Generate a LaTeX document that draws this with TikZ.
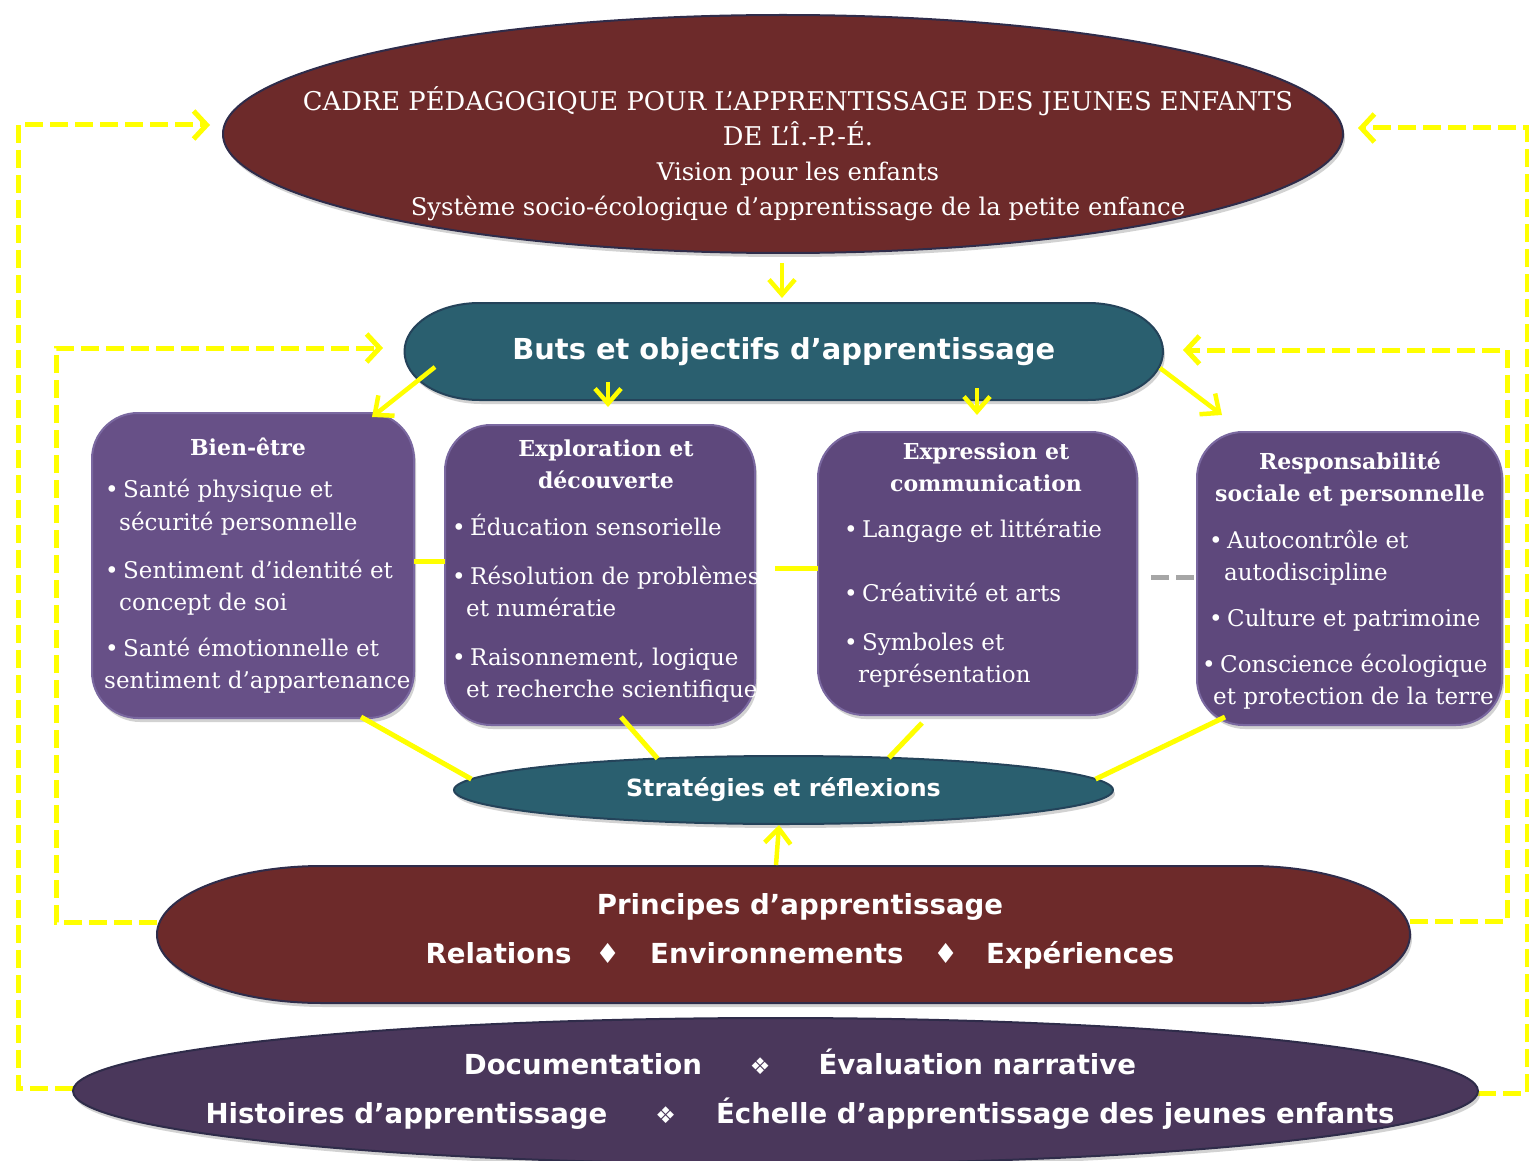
\documentclass[tikz,border=0pt]{standalone}
\usepackage{fontspec}
\setmainfont{DejaVu Serif}
\newfontfamily\hsans{DejaVu Sans}
\usetikzlibrary{shapes.geometric,arrows.meta,calc,shadows}
\pgfdeclarelayer{bg}
\pgfsetlayers{bg,main}
\definecolor{dred}{HTML}{6D2A2A}
\definecolor{dredge}{HTML}{2F2C4A}
\definecolor{cteal}{HTML}{2A5F6F}
\definecolor{ctealedge}{HTML}{24435A}
\definecolor{cpurp}{HTML}{5E487C}
\definecolor{cpurpa}{HTML}{675087}
\definecolor{cpurpedge}{HTML}{7A68A0}
\definecolor{cbot}{HTML}{4A375B}
\definecolor{cyel}{HTML}{FFFF00}
\tikzset{
  shd/.style={drop shadow={shadow xshift=2pt,shadow yshift=-4pt,opacity=0.35}},
  ell/.style={ellipse, inner sep=0pt, outer sep=0pt, shd},
  pbox/.style={rectangle, rounded corners=46pt, inner sep=0pt, outer sep=0pt, fill=cpurp, draw=cpurpedge, line width=2pt, shd},
  ghost/.style={rectangle, inner sep=0pt, outer sep=0pt},
  ydash/.style={cyel, line width=5pt, dash pattern=on 18pt off 7pt},
  gdash/.style={black!35, line width=5pt, dash pattern=on 18pt off 7pt},
  yline/.style={cyel, line width=5pt},
  yarr/.style={cyel, line width=4.5pt, -{Straight Barb[length=15pt,width=26pt]}},
  dtip/.style={-{Straight Barb[length=13pt,width=28pt]}},
  btxt/.style={text=white, inner sep=0pt, font=\fontsize{23}{32}\selectfont},
  ttl/.style={text=white, inner sep=0pt, align=center, font=\bfseries\fontsize{22}{32}\selectfont},
  stxt/.style={text=white, inner sep=0pt, font=\hsans\bfseries\fontsize{27.6}{32}\selectfont},
}
\newcommand\BxItem[4]{\node[btxt,anchor=mid west] (#1) at ({#2-18},{#3+5}) {\makebox[18pt][l]{•}#4};}
\newcommand\BxCont[4]{\node[btxt,anchor=mid west] (#1) at (#2,{#3+5}) {#4};}
\newcommand\dsym{{\hsans\mdseries\fontsize{23}{23}\selectfont ❖}}
\begin{document}
\begin{tikzpicture}[x=1pt,y=-1pt]
\useasboundingbox (0,0) rectangle (1529,1161);

% main shapes
\node[ell, fill=dred, draw=dredge, line width=2pt, minimum width=1120pt, minimum height=238pt] (top) at (783,134) {};
\node[ghost, minimum width=758.5pt, minimum height=97pt, text=white, font=\hsans\bfseries\fontsize{28.9}{32}\selectfont] (buts) at (783.75,351.5) {Buts et objectifs d’apprentissage};
\node[pbox, fill=cpurpa, minimum width=322pt, minimum height=305pt] (b1) at (253,565.5) {};
\node[pbox, minimum width=310pt, minimum height=300pt] (b2) at (600,575) {};
\node[pbox, minimum width=319pt, minimum height=283pt] (b3) at (977.5,573.5) {};
\node[pbox, minimum width=305pt, minimum height=293pt] (b4) at (1349.5,578.5) {};
\node[ell, fill=cteal, draw=ctealedge, line width=2pt, minimum width=659pt, minimum height=68pt, text=white, font=\hsans\bfseries\fontsize{23.7}{28}\selectfont] (strat) at (783.5,790) {Stratégies et réflexions};
\node[ghost, minimum width=1253pt, minimum height=137pt] (prin) at (783.5,934.5) {};
\node[ell, fill=cbot, draw=dredge, line width=2pt, minimum width=1405pt, minimum height=146pt] (bot) at (775.5,1091) {};

\begin{pgfonlayer}{bg}
\fill[white] (0,0) rectangle (1529,1161);
% feedback loops
\draw[ydash,dtip] ($(bot.west)+(0,-3)$) -| ($(top.west)+(-205,-9)$) -- ($(top.west)+(-13,-9)$);
\draw[ydash,dtip] ($(prin.west)+(0,-12.5)$) -| ($(buts.west)+(-348.5,-3.5)$) -- ($(buts.west)+(-21.5,-3.5)$);
\draw[ydash,dtip] ($(prin.east)+(0,-13.5)$) -| ($(buts.east)+(344,-1.5)$) -- ($(buts.east)+(20,-1.5)$);
\draw[ydash,dtip] ($(bot.east)+(0,2)$) -| ($(top.east)+(184,-6)$) -- ($(top.east)+(15,-6)$);
% custom stadium shapes
\filldraw[fill=cteal, draw=ctealedge, line width=2pt, shd]
  ($(buts.north west)+(75,0)$) -- ($(buts.north east)+(-75,0)$)
  arc[start angle=-90,end angle=90,x radius=75,y radius=48.5]
  -- ($(buts.south west)+(75,0)$)
  arc[start angle=90,end angle=270,x radius=75,y radius=48.5] -- cycle;
\filldraw[fill=dred, draw=dredge, line width=2pt, shd]
  ($(prin.north west)+(165,0)$) -- ($(prin.north east)+(-160,0)$)
  arc[start angle=-90,end angle=90,x radius=160,y radius=68.5]
  -- ($(prin.south west)+(165,0)$)
  arc[start angle=90,end angle=270,x radius=165,y radius=68.5] -- cycle;
\end{pgfonlayer}

% top ellipse text
\node[text=white, inner sep=0pt, align=center, font=\fontsize{24.3}{35}\selectfont] (toptxt) at (798,153.5)
  {{\fontsize{25.8}{35}\selectfont CADRE PÉDAGOGIQUE POUR L’APPRENTISSAGE DES JEUNES ENFANTS}\\{\fontsize{25.8}{35}\selectfont DE L’Î.-P.-É.}\\Vision pour les enfants\\Système socio-écologique d’apprentissage de la petite enfance};

% box 1
\node[ttl] (b1t) at (248,447) {Bien-être};
\BxItem{b1a}{123}{490}{Santé physique et}
\BxCont{b1b}{119}{523}{sécurité personnelle}
\BxItem{b1c}{123}{571}{Sentiment d’identité et}
\BxCont{b1d}{119}{603}{concept de soi}
\BxItem{b1e}{123}{649}{Santé émotionnelle et}
\BxCont{b1f}{104}{681}{sentiment d’appartenance}
% box 2
\node[ttl] (b2t) at (606,464) {Exploration et\\découverte};
\BxItem{b2a}{470}{528}{Éducation sensorielle}
\BxItem{b2b}{470}{577}{Résolution de problèmes}
\BxCont{b2c}{466}{609}{et numératie}
\BxItem{b2d}{470}{658}{Raisonnement, logique}
\BxCont{b2e}{466}{690}{et recherche scientifique}
% box 3
\node[ttl] (b3t) at (986,467) {Expression et\\communication};
\BxItem{b3a}{862}{530}{Langage et littératie}
\BxItem{b3b}{862}{594}{Créativité et arts}
\BxItem{b3c}{862}{643}{Symboles et}
\BxCont{b3d}{858}{675}{représentation}
% box 4
\node[ttl] (b4t) at (1350,479) {Responsabilité\\sociale et personnelle};
\BxItem{b4a}{1227}{541}{Autocontrôle et}
\BxCont{b4b}{1224}{573}{autodiscipline}
\BxItem{b4c}{1227}{619}{Culture et patrimoine}
\BxItem{b4d}{1220}{665}{Conscience écologique}
\BxCont{b4e}{1213}{697}{et protection de la terre}

% principes text
\node[stxt] (p1) at (800,907) {Principes d’apprentissage};
\node[stxt] (p2) at (800,955) {Relations\hspace{24pt}{\mdseries ♦}\hspace{30pt}Environnements\hspace{30pt}{\mdseries ♦}\hspace{28pt}Expériences};
% bottom text
\node[stxt] (d1) at (800,1062) {Documentation\hspace{48pt}\dsym\hspace{48pt}Évaluation narrative};
\node[stxt] (d2) at (800,1114) {Histoires d’apprentissage\hspace{48pt}\dsym\hspace{40pt}Échelle d’apprentissage des jeunes enfants};

% connectors
\draw[yarr] ($(top.south)+(-1,10)$) -- ($(buts.north)+(-1.75,-5)$);
\draw[yarr] ($(buts.south west)+(30.5,-33)$) -- ($(b1.north east)+(-42,4)$);
\draw[yarr] ($(buts.south)+(-175.75,-18)$) -- ($(b2.north)+(8,-18)$);
\draw[yarr] ($(buts.south)+(193.25,-12)$) -- ($(b3.north)+(-0.5,-17)$);
\draw[yarr] ($(buts.south east)+(-3,-32)$) -- ($(b4.north west)+(25,-17)$);
\draw[yline] ($(b1.east)+(0,-4.5)$) -- ($(b2.west)+(0,-14)$);
\draw[yline] ($(b2.east)+(20,-7)$) -- ($(b3.west)+(0,-5.5)$);
\draw[gdash] ($(b3.east)+(14,3.5)$) -- ($(b4.west)+(-2,-1.5)$);
\draw[yline] ($(b1.south)+(108,-1)$) -- (strat.178);
\draw[yline] ($(b2.south)+(21,-8)$) -- (strat.166);
\draw[yline] ($(b3.south)+(-55.5,8)$) -- (strat.17);
\draw[yline] ($(b4.south)+(-124.5,-8)$) -- (strat.2);
\draw[yarr] ($(prin.north)+(-7.5,-1)$) -- ($(strat.south)+(-4.5,1)$);
\end{tikzpicture}
\end{document}
